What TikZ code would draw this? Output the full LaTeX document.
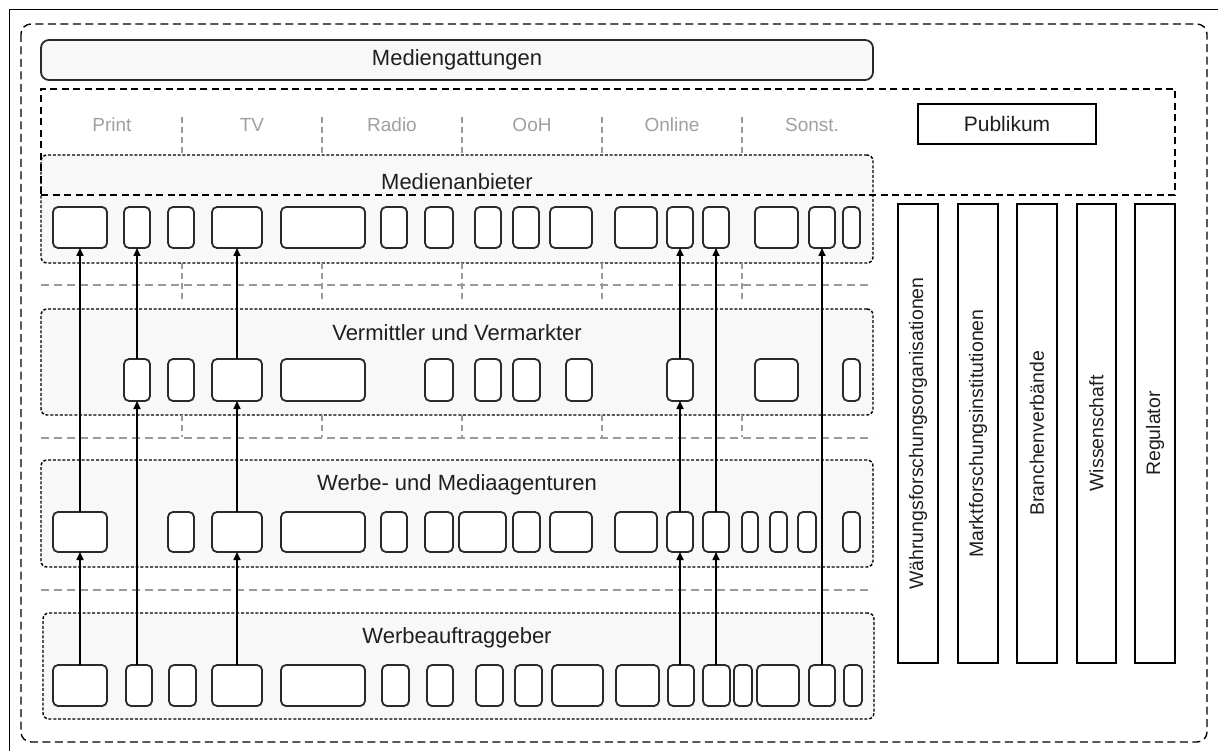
\documentclass[tikz,border=0pt]{standalone}
\usepackage{fontspec}
\setmainfont{Liberation Sans}
\usetikzlibrary{arrows.meta}
\definecolor{boxline}{HTML}{2A2A2A}
\definecolor{panel}{HTML}{F8F8F8}
\definecolor{greytxt}{HTML}{A0A0A0}
\definecolor{greyline}{HTML}{9A9A9A}
\tikzset{
  sbox/.style={draw=boxline,line width=1.8pt,rounded corners=5pt,fill=white,inner sep=0pt,outer sep=0pt},
  cbox/.style={draw=black,line width=1.4pt,dash pattern=on 3pt off 1.8pt,rounded corners=6pt,fill=panel,inner sep=0pt,outer sep=0pt},
  colbox/.style={draw=black,line width=1.6pt,fill=white,inner sep=0pt,outer sep=0pt},
  bigdash/.style={draw=black,line width=1.4pt,dash pattern=on 8pt off 4.5pt},
  gline/.style={draw=greyline,line width=1.3pt,dash pattern=on 8pt off 5pt},
  gvline/.style={draw=greyline,line width=1.3pt,dash pattern=on 6pt off 4pt},
  arr/.style={draw=black,line width=1.6pt,-{Triangle[length=8pt,width=7pt]}},
  title/.style={font=\fontsize{22}{25}\selectfont,text=black!88},
  gtxt/.style={font=\fontsize{19}{22}\selectfont,text=greytxt},
  rtxt/.style={font=\fontsize{19.5}{22}\selectfont,text=black!88,rotate=90}
}
\newcommand\bx[5]{\node[sbox,minimum width={#3-#2},minimum height={#5-#4}] (#1) at ({(#2+#3)/2},{(#4+#5)/2}) {};}
\newcommand\cnt[5]{\node[cbox,minimum width={#3-#2},minimum height={#5-#4}] (#1) at ({(#2+#3)/2},{(#4+#5)/2}) {};}
\begin{document}
\begin{tikzpicture}[x=1pt,y=-1pt]
\useasboundingbox (0,0) rectangle (1218,751);
\clip (0,0) rectangle (1218,751);
\fill[white] (0,0) rectangle (1218,751);
% outer frame (cropped)
\draw[line width=1.8pt] (9.5,780) -- (9.5,9.5) -- (1240,9.5);
% outer dashed rounded frame
\draw[bigdash,rounded corners=10pt] (21,24) rectangle (1207,742);

% Mediengattungen
\node[draw=boxline,line width=1.8pt,rounded corners=8pt,fill=panel,minimum width=832,minimum height=40,inner sep=0pt,title] (mg) at (457,60) {Mediengattungen};

% containers
\cnt{cma}{41}{873}{155}{263}
\cnt{cvm}{41}{873}{309}{415}
\cnt{cwm}{41}{873}{460}{567}
\cnt{cwa}{43}{874}{613}{719}

% media type area (dashed rectangle) drawn over Medienanbieter
\node[bigdash,dash pattern=on 7pt off 4.5pt,minimum width=1134,minimum height=106,inner sep=0pt,outer sep=0pt] (mga) at (608,142) {};

% genre labels
\foreach \t/\x in {Print/112,TV/252,Radio/392,OoH/532,Online/672,Sonst./812}
  \node[gtxt] (g\x) at (\x,125) {\t};
\foreach \x in {182,322,462,602,742} {
  \draw[gvline] (\x,117) -- (\x,155);
  \draw[gvline] (\x,263) -- (\x,303);
  \draw[gvline] (\x,415) -- (\x,437);
}
\draw[gline] (41,285) -- (873,285);
\draw[gline] (41,438) -- (873,438);
\draw[gline] (41,590) -- (873,590);

% titles
\node[title] (tma) at (457,182) {Medienanbieter};
\node[title] (tvm) at (457,333) {Vermittler und Vermarkter};
\node[title] (twm) at (457,485) {Werbe- und Mediaagenturen};
\node[title] (twa) at (457,638) {Werbeauftraggeber};

% Medienanbieter boxes
\bx{ma1}{53}{107}{207}{248}
\bx{ma2}{124}{150}{207}{248}
\bx{ma3}{168}{194}{207}{248}
\bx{ma4}{212}{262}{207}{248}
\bx{ma5}{281}{365}{207}{248}
\bx{ma6}{381}{407}{207}{248}
\bx{ma7}{425}{453}{207}{248}
\bx{ma8}{475}{501}{207}{248}
\bx{ma9}{513}{539}{207}{248}
\bx{ma10}{550}{592}{207}{248}
\bx{ma11}{615}{657}{207}{248}
\bx{ma12}{667}{693}{207}{248}
\bx{ma13}{703}{729}{207}{248}
\bx{ma14}{755}{798}{207}{248}
\bx{ma15}{809}{835}{207}{248}
\bx{ma16}{843}{860}{207}{248}

% Vermittler boxes
\bx{vm1}{124}{150}{359}{401}
\bx{vm2}{168}{194}{359}{401}
\bx{vm3}{212}{262}{359}{401}
\bx{vm4}{281}{365}{359}{401}
\bx{vm5}{425}{453}{359}{401}
\bx{vm6}{475}{501}{359}{401}
\bx{vm7}{513}{540}{359}{401}
\bx{vm8}{566}{592}{359}{401}
\bx{vm9}{667}{693}{359}{401}
\bx{vm10}{755}{798}{359}{401}
\bx{vm11}{843}{860}{359}{401}

% Werbe- und Mediaagenturen boxes
\bx{wm1}{53}{107}{512}{552}
\bx{wm2}{168}{194}{512}{552}
\bx{wm3}{212}{262}{512}{552}
\bx{wm4}{281}{365}{512}{552}
\bx{wm5}{381}{407}{512}{552}
\bx{wm6}{425}{453}{512}{552}
\bx{wm7}{459}{506}{512}{552}
\bx{wm8}{513}{540}{512}{552}
\bx{wm9}{550}{592}{512}{552}
\bx{wm10}{615}{657}{512}{552}
\bx{wm11}{667}{693}{512}{552}
\bx{wm12}{703}{729}{512}{552}
\bx{wm13}{742}{758}{512}{552}
\bx{wm14}{770}{787}{512}{552}
\bx{wm15}{798}{816}{512}{552}
\bx{wm16}{843}{860}{512}{552}

% Werbeauftraggeber boxes
\bx{wa1}{53}{107}{665}{706}
\bx{wa2}{126}{152}{665}{706}
\bx{wa3}{169}{196}{665}{706}
\bx{wa4}{212}{262}{665}{706}
\bx{wa5}{281}{365}{665}{706}
\bx{wa6}{382}{409}{665}{706}
\bx{wa7}{427}{453}{665}{706}
\bx{wa8}{476}{503}{665}{706}
\bx{wa9}{515}{542}{665}{706}
\bx{wa10}{552}{603}{665}{706}
\bx{wa11}{616}{659}{665}{706}
\bx{wa12}{668}{694}{665}{706}
\bx{wa13}{703}{730}{665}{706}
\bx{wa14}{734}{752}{665}{706}
\bx{wa15}{757}{799}{665}{706}
\bx{wa16}{809}{835}{665}{706}
\bx{wa17}{844}{862}{665}{706}

% arrows
\draw[arr] (wa1.north) -- (wm1.south);
\draw[arr] (wm1.north) -- (ma1.south);
\draw[arr] (vm1.south |- wa2.north) -- (vm1.south);
\draw[arr] (vm1.north) -- (ma2.south);
\draw[arr] (wa4.north) -- (wm3.south);
\draw[arr] (wm3.north) -- (vm3.south);
\draw[arr] (vm3.north) -- (ma4.south);
\draw[arr] (wm11.south |- wa12.north) -- (wm11.south);
\draw[arr] (wm11.north) -- (vm9.south);
\draw[arr] (vm9.north) -- (ma12.south);
\draw[arr] (wm12.south |- wa13.north) -- (wm12.south);
\draw[arr] (wm12.north) -- (ma13.south);
\draw[arr] (wa16.north) -- (ma15.south);

% Publikum
\node[colbox,minimum width=178,minimum height=40,font=\fontsize{21}{24}\selectfont,text=black!88] (pub) at (1007,124) {Publikum};

% right columns
\node[colbox,minimum width=40,minimum height=459] (c1) at (918,433.5) {};
\node[colbox,minimum width=40,minimum height=459] (c2) at (978,433.5) {};
\node[colbox,minimum width=40,minimum height=459] (c3) at (1037,433.5) {};
\node[colbox,minimum width=39,minimum height=459] (c4) at (1096.5,433.5) {};
\node[colbox,minimum width=40,minimum height=459] (c5) at (1155,433.5) {};
\node[rtxt] (t1) at (c1) {Währungsforschungsorganisationen};
\node[rtxt] (t2) at (c2) {Marktforschungsinstitutionen};
\node[rtxt] (t3) at (c3) {Branchenverbände};
\node[rtxt] (t4) at (c4) {Wissenschaft};
\node[rtxt] (t5) at (c5) {Regulator};
\end{tikzpicture}
\end{document}
